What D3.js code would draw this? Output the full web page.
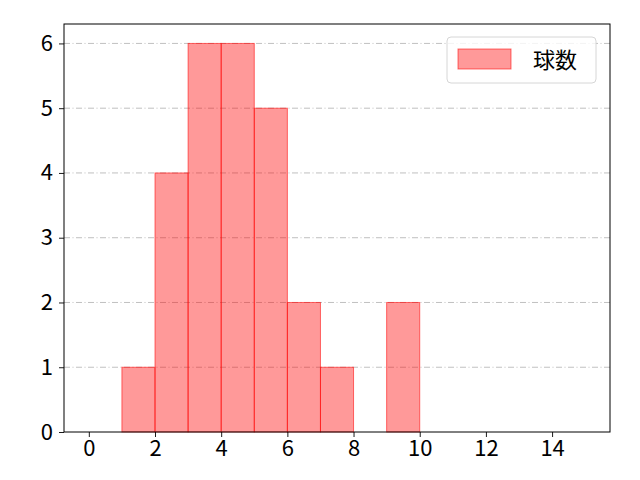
<!DOCTYPE html>
<html lang="ja">
<head>
  <meta charset="UTF-8">
  <title>球数</title>
  <style>
    body { margin: 0; background: #fff; }
    text { font-family: "Noto Sans CJK JP", "DejaVu Sans", sans-serif; }
  </style>
</head>
<body>
<script src="https://cdn.jsdelivr.net/npm/d3@7"></script>
<script>
  // histogram bins (lower edge) and counts
  var binStarts = [0, 1, 2, 3, 4, 5, 6, 7, 8, 9, 10, 11, 12, 13, 14]
  var counts    = [0, 1, 4, 6, 6, 5, 2, 1, 0, 2, 0, 0, 0, 0, 0]
  var xTicks = [0, 2, 4, 6, 8, 10, 12, 14]
  var yTicks = [0, 1, 2, 3, 4, 5, 6]
  var seriesName = '球数'

  var width = 640, height = 480
  var mLeft = 64, mRight = 610, mTop = 24, mBottom = 432

  var x = d3.scaleLinear().domain([-0.75, 15.75]).range([mLeft, mRight])
  var y = d3.scaleLinear().domain([0, 6.3]).range([mBottom, mTop])

  var svg = d3.select('body').append('svg')
    .attr('width', width).attr('height', height)

  // grid
  svg.append('g').selectAll('line')
    .data(yTicks.slice(1))
    .enter().append('line')
    .attr('x1', mLeft).attr('x2', mRight)
    .attr('y1', d => y(d)).attr('y2', d => y(d))
    .attr('stroke', '#b0b0b0').attr('stroke-width', 0.8)
    .attr('stroke-dasharray', '6,2.5,1,2.5')

  // bars
  svg.append('g').selectAll('rect')
    .data(binStarts.map((b, i) => [b, counts[i]]).filter(d => d[1] > 0))
    .enter().append('rect')
    .attr('x', d => x(d[0]))
    .attr('width', d => x(d[0] + 1) - x(d[0]))
    .attr('y', d => y(d[1]))
    .attr('height', d => y(0) - y(d[1]))
    .attr('fill', 'rgba(255,0,0,0.4)')
    .attr('stroke', 'rgba(255,0,0,0.55)')
    .attr('stroke-width', 1)

  var fmt = d3.format('d')
  var xAxis = d3.axisBottom(x).tickValues(xTicks).tickFormat(fmt).tickSize(5).tickPadding(3)
  var yAxis = d3.axisLeft(y).tickValues(yTicks).tickFormat(fmt).tickSize(5).tickPadding(6)

  var gx = svg.append('g').attr('transform', `translate(0,${mBottom})`).call(xAxis)
  var gy = svg.append('g').attr('transform', `translate(${mLeft},0)`).call(yAxis)
  ;[gx, gy].forEach(g => {
    g.select('.domain').remove()
    g.selectAll('.tick line').attr('stroke', '#000').attr('stroke-width', 0.9)
    g.selectAll('.tick text').attr('font-size', 22).attr('fill', '#000')
      .style('font-family', '"Noto Sans CJK JP", sans-serif')
  })

  // frame
  svg.append('rect')
    .attr('x', mLeft).attr('y', mTop)
    .attr('width', mRight - mLeft).attr('height', mBottom - mTop)
    .attr('fill', 'none').attr('stroke', '#000').attr('stroke-width', 1)

  // legend
  var lg = svg.append('g').attr('transform', 'translate(447,37)')
  lg.append('rect').attr('width', 149).attr('height', 46).attr('rx', 4)
    .attr('fill', 'rgba(255,255,255,0.8)').attr('stroke', '#d6d6d6')
  lg.append('rect').attr('x', 11).attr('y', 12).attr('width', 53).attr('height', 20)
    .attr('fill', 'rgba(255,0,0,0.4)').attr('stroke', 'rgba(255,0,0,0.55)')
  lg.append('text').attr('x', 86).attr('y', 31).attr('font-size', 22)
    .text(seriesName)
</script>
</body>
</html>
